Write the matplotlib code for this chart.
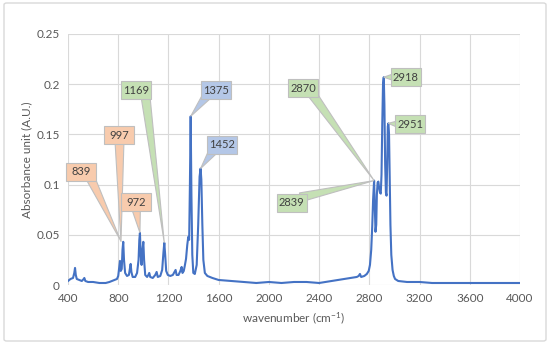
import matplotlib
matplotlib.use("Agg")
import matplotlib.pyplot as plt
from matplotlib.patches import Polygon, Rectangle, FancyBboxPatch
import numpy as np

# ---- spectrum ----
wavenumber = [400, 420, 440, 450, 456, 462, 470, 490, 510, 525, 530, 538, 560, 600, 650, 700, 730, 750,
              770, 790, 800, 808, 814, 820, 828, 834, 840, 846, 855, 870, 885, 893, 899, 905, 915, 935,
              950, 962, 968, 973, 979, 986, 993, 1000, 1006, 1015, 1030, 1040, 1047, 1055, 1075, 1095,
              1106, 1115, 1135, 1150, 1160, 1167, 1174, 1182, 1195, 1215, 1235, 1248, 1257, 1265, 1280,
              1295, 1305, 1312, 1322, 1330, 1340, 1350, 1358, 1365, 1371, 1377, 1383, 1390, 1398, 1410,
              1425, 1437, 1448, 1456, 1462, 1470, 1478, 1490, 1510, 1550, 1600, 1700, 1800, 1900, 2000,
              2100, 2200, 2300, 2400, 2450, 2500, 2550, 2600, 2650, 2700, 2715, 2725, 2735, 2760, 2780,
              2795, 2805, 2815, 2823, 2830, 2838, 2843, 2849, 2855, 2860, 2866, 2872, 2879, 2885, 2891,
              2897, 2903, 2909, 2915, 2920, 2926, 2932, 2937, 2942, 2947, 2952, 2957, 2962, 2968, 2975,
              2985, 2995, 3005, 3030, 3100, 3200, 3300, 3500, 4000]
absorbance = [0.004, 0.006, 0.007, 0.012, 0.017, 0.010, 0.006, 0.005, 0.004, 0.006, 0.007, 0.004, 0.003,
              0.003, 0.002, 0.002, 0.003, 0.004, 0.005, 0.006, 0.009, 0.018, 0.024, 0.014, 0.016, 0.035,
              0.043, 0.025, 0.012, 0.009, 0.010, 0.016, 0.021, 0.013, 0.008, 0.008, 0.012, 0.025, 0.045,
              0.052, 0.030, 0.020, 0.035, 0.043, 0.025, 0.010, 0.008, 0.010, 0.012, 0.008, 0.007, 0.010,
              0.013, 0.008, 0.009, 0.015, 0.032, 0.042, 0.030, 0.014, 0.010, 0.009, 0.010, 0.013, 0.015,
              0.010, 0.010, 0.014, 0.018, 0.012, 0.014, 0.019, 0.026, 0.040, 0.048, 0.045, 0.100, 0.168,
              0.090, 0.030, 0.012, 0.011, 0.020, 0.060, 0.108, 0.116, 0.105, 0.060, 0.025, 0.012, 0.009,
              0.007, 0.005, 0.004, 0.003, 0.002, 0.003, 0.002, 0.003, 0.003, 0.002, 0.003, 0.004, 0.005,
              0.006, 0.007, 0.008, 0.009, 0.011, 0.008, 0.009, 0.011, 0.014, 0.020, 0.035, 0.058, 0.085,
              0.104, 0.080, 0.053, 0.060, 0.090, 0.102, 0.103, 0.096, 0.092, 0.091, 0.110, 0.160, 0.200,
              0.207, 0.180, 0.120, 0.092, 0.089, 0.120, 0.158, 0.161, 0.150, 0.110, 0.060, 0.030, 0.015,
              0.009, 0.006, 0.004, 0.003, 0.003, 0.002, 0.002, 0.002]

# ---- callout labels ----
peak_labels = ["839", "997", "972", "1169", "1375", "1452", "2870", "2839", "2918", "2951"]
peak_tip_wn = [820, 822, 973, 1167, 1377, 1456, 2838, 2838, 2915, 2951]
peak_tip_val = [0.044, 0.043, 0.052, 0.042, 0.168, 0.116, 0.104, 0.104, 0.207, 0.161]
label_wn = [503, 810, 941, 945, 1578, 1630, 2271, 2181, 3090, 3125]
label_val = [0.113, 0.149, 0.0825, 0.194, 0.194, 0.1395, 0.196, 0.082, 0.207, 0.160]
label_fill = ["#F8CBAD", "#F8CBAD", "#F8CBAD", "#C5E0B4", "#B4C7E7", "#B4C7E7",
              "#C5E0B4", "#C5E0B4", "#C5E0B4", "#C5E0B4"]

x_ticks = [400, 800, 1200, 1600, 2000, 2400, 2800, 3200, 3600, 4000]
y_ticks = [0, 0.05, 0.1, 0.15, 0.2, 0.25]
y_tick_labels = ["0", "0.05", "0.1", "0.15", "0.2", "0.25"]

plt.rcParams['font.family'] = ['Lato', 'DejaVu Sans']
plt.rcParams['mathtext.fontset'] = 'custom'
plt.rcParams['mathtext.rm'] = 'Lato'
plt.rcParams['mathtext.default'] = 'regular'

fig = plt.figure(figsize=(5.5, 3.44), dpi=100)
fig.patches.append(FancyBboxPatch((4 / 550, 3 / 344), 542 / 550, 338 / 344,
                                  boxstyle="round,pad=0,rounding_size=0.005",
                                  transform=fig.transFigure, fc="none", ec="#D9D9D9", lw=1.0,
                                  zorder=-1))
ax = fig.add_axes([68 / 550, 59 / 344, 452 / 550, 251 / 344])
ax.set_facecolor("none")
ax.plot(wavenumber, absorbance, color="#4472C4", lw=1.5, zorder=3)

ax.set_xlim(400, 4000)
ax.set_ylim(0, 0.25)
ax.set_xticks(x_ticks)
ax.set_xticklabels([str(t) for t in x_ticks])
ax.set_yticks(y_ticks)
ax.set_yticklabels(y_tick_labels)
ax.grid(True, color="#D9D9D9", lw=0.8, zorder=0)
ax.set_axisbelow(True)
for s in ax.spines.values():
    s.set_visible(False)
ax.tick_params(length=0, labelsize=8.5, colors="#595959", pad=6)
ax.set_xlabel("wavenumber (cm$^{-1}$)", fontsize=8.5, color="#595959", labelpad=4)
ax.set_ylabel("Absorbance unit (A.U.)", fontsize=8.5, color="#595959", labelpad=3)

# draw callouts
fig.canvas.draw()
inv = ax.transData.inverted()
bw, bh = 30.0, 18.0
for lab, tw, tv, lw_, lv, fc in zip(peak_labels, peak_tip_wn, peak_tip_val, label_wn, label_val, label_fill):
    tip = ax.transData.transform((tw, tv))
    c = ax.transData.transform((lw_, lv))
    d = tip - c
    dist = np.hypot(*d)
    u = d / dist
    perp = np.array([-u[1], u[0]])
    base_c = c + np.array([0.3 * bw * np.sign(d[0]) if abs(d[0]) > 5 else 0,
                           0.3 * bh * np.sign(d[1]) if abs(d[1]) > 5 else 0])
    half = 4.5
    p1 = base_c + perp * half
    p2 = base_c - perp * half
    tri = inv.transform(np.array([p1, tip, p2]))
    ax.add_patch(Polygon(tri, closed=True, fc=fc, ec="#BFBFBF", lw=0.8, clip_on=False, zorder=5))
    corner = inv.transform(c - np.array([bw / 2, bh / 2]))
    corner2 = inv.transform(c + np.array([bw / 2, bh / 2]))
    ax.add_patch(Rectangle(corner, corner2[0] - corner[0], corner2[1] - corner[1],
                           fc=fc, ec="#BFBFBF", lw=0.8, clip_on=False, zorder=6))
    ax.text(lw_, lv, lab, ha="center", va="center", fontsize=8, color="#404040", zorder=7)

fig.savefig("out.png", dpi=100)
